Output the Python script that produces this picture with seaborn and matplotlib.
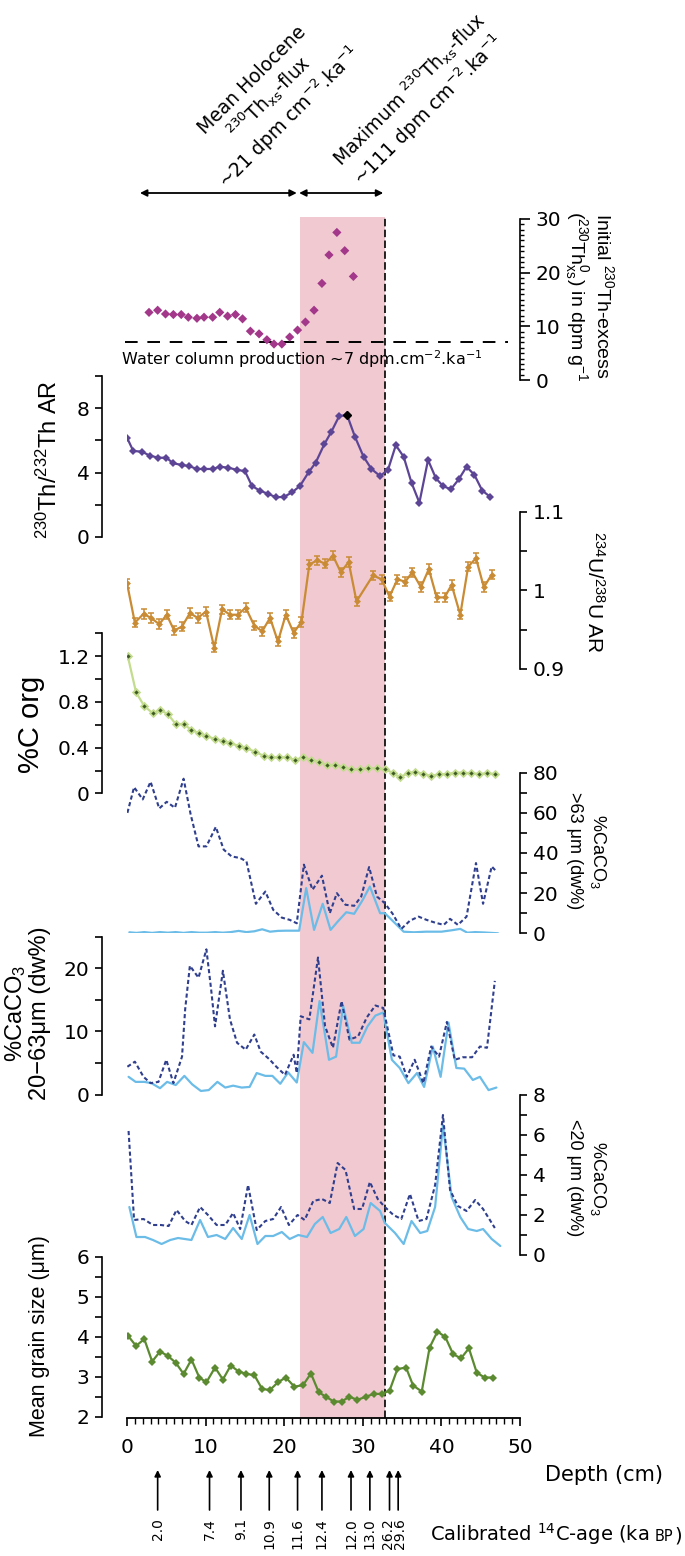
import matplotlib
matplotlib.use('Agg')
import matplotlib.pyplot as plt
import matplotlib.transforms as mtransforms
import seaborn as sns

sns.set_style('ticks')
plt.rcParams['font.family'] = ['DejaVu Sans']
plt.rcParams['mathtext.default'] = 'regular'
for key in ['text.color', 'axes.labelcolor', 'xtick.color', 'ytick.color', 'axes.edgecolor']:
    plt.rcParams[key] = 'black'

# ---- data (depth in cm) ----
thxs_depth = [2.8, 3.9, 4.9, 5.9, 6.9, 7.8, 8.9, 9.8, 10.9, 11.8, 12.8, 13.8, 14.7, 15.7,
              16.8, 17.8, 18.7, 19.7, 20.7, 21.7, 22.7, 23.8, 24.8, 25.7, 26.7, 27.7, 28.8]
thxs_val = [12.6, 13.0, 12.3, 12.2, 12.2, 11.7, 11.5, 11.7, 11.7, 12.6, 11.9, 12.2, 11.4, 9.1,
            8.6, 7.5, 6.7, 6.7, 8.0, 9.3, 10.8, 13.0, 18.0, 23.3, 27.5, 24.1, 19.3]
water_prod = 7

thth_depth = [0.0, 0.8, 1.9, 2.9, 4.0, 5.0, 5.9, 7.0, 7.9, 8.9, 9.8, 10.9, 11.8, 12.9, 14.0, 15.0,
              15.9, 16.9, 18.0, 19.0, 20.0, 21.0, 22.0, 23.1, 24.0, 25.1, 26.0, 27.0, 28.0, 29.0,
              30.1, 31.1, 32.2, 33.2, 34.2, 35.2, 36.2, 37.2, 38.3, 39.3, 40.2, 41.2, 42.2, 43.2,
              44.2, 45.2, 46.2]
thth_val = [6.17, 5.34, 5.30, 5.05, 4.92, 4.92, 4.57, 4.47, 4.40, 4.22, 4.22, 4.22, 4.36, 4.30,
            4.16, 4.09, 3.16, 2.87, 2.66, 2.45, 2.49, 2.76, 3.16, 4.01, 4.61, 5.76, 6.54, 7.52,
            7.58, 6.23, 4.98, 4.22, 3.78, 4.16, 5.70, 4.98, 3.36, 2.12, 4.78, 3.64, 3.16, 2.95,
            3.57, 4.36, 3.85, 2.87, 2.49]
thth_max = (28.0, 7.58)

uar_depth = [0.0, 1.0, 2.1, 3.05, 4.1, 5.05, 6.0, 7.0, 8.0, 9.0, 10.05, 11.1, 12.1, 13.1, 14.1,
             15.1, 16.2, 17.2, 18.2, 19.2, 20.2, 21.2, 22.2, 23.2, 24.2, 25.2, 26.2, 27.2, 28.2,
             29.2, 31.3, 32.4, 33.4, 34.4, 35.4, 36.3, 37.4, 38.4, 39.4, 40.4, 41.3, 42.4, 43.4,
             44.4, 45.4, 46.4]
uar_val = [1.009, 0.959, 0.970, 0.965, 0.957, 0.969, 0.949, 0.954, 0.971, 0.965, 0.973, 0.927,
           0.976, 0.969, 0.969, 0.978, 0.955, 0.948, 0.965, 0.935, 0.969, 0.946, 0.960, 1.033,
           1.038, 1.034, 1.044, 1.023, 1.036, 0.986, 1.019, 1.014, 0.992, 1.014, 1.011, 1.023,
           1.004, 1.027, 0.991, 0.991, 1.007, 0.969, 1.030, 1.041, 1.004, 1.020]
uar_err = 0.006

corg_depth = [0.1, 1.15, 2.2, 3.3, 4.2, 5.2, 6.2, 7.2, 8.2, 9.2, 10.1, 11.2, 12.2, 13.1, 14.2,
              15.2, 16.3, 17.4, 18.3, 19.4, 20.4, 21.4, 22.4, 23.4, 24.4, 25.4, 26.5, 27.5, 28.5,
              29.6, 30.7, 31.8, 32.8, 33.8, 34.7, 35.7, 36.7, 37.7, 38.7, 39.7, 40.75, 41.7, 42.8,
              43.8, 44.8, 45.8, 46.8]
corg_val = [1.20, 0.884, 0.764, 0.70, 0.729, 0.694, 0.607, 0.607, 0.555, 0.526, 0.502, 0.476,
            0.458, 0.438, 0.418, 0.395, 0.365, 0.328, 0.316, 0.316, 0.316, 0.293, 0.316, 0.293,
            0.278, 0.249, 0.249, 0.229, 0.211, 0.211, 0.22, 0.22, 0.211, 0.182, 0.141, 0.176,
            0.19, 0.17, 0.153, 0.168, 0.17, 0.182, 0.182, 0.176, 0.17, 0.176, 0.17]

# %CaCO3 >63 um: dotted = bulk, solid = second series
c63_dot_depth = [0.05, 0.9, 2.0, 3.0, 4.1, 5.05, 6.1, 7.2, 8.1, 9.1, 10.1, 11.3, 12.3, 13.3,
                 14.4, 15.2, 16.4, 17.6, 18.6, 19.7, 20.7, 21.6, 22.5, 23.6, 24.8, 25.8, 26.7,
                 27.8, 28.9, 29.8, 30.8, 31.8, 32.8, 33.8, 34.9, 36.0, 37.1, 38.1, 39.2, 40.3,
                 41.1, 42.1, 43.2, 44.4, 45.3, 46.4, 47.0]
c63_dot_val = [60.0, 72.8, 66.7, 75.5, 62.2, 65.5, 62.5, 77.0, 59.2, 43.3, 43.3, 53.0, 41.7,
               38.3, 37.5, 35.8, 14.7, 20.8, 11.7, 7.8, 6.7, 5.0, 34.2, 21.7, 28.7, 10.0, 20.0,
               14.2, 13.7, 18.3, 33.0, 18.3, 15.0, 9.7, 2.2, 6.3, 8.3, 6.7, 5.3, 4.2, 7.2, 4.2,
               8.3, 35.0, 14.7, 33.3, 30.8]
c63_sol_depth = [0.3, 1.2, 2.2, 3.2, 4.2, 5.2, 6.2, 7.2, 8.2, 9.2, 10.2, 11.2, 12.2, 13.2, 14.2,
                 15.2, 16.2, 17.2, 18.2, 19.2, 20.2, 21.9, 22.8, 23.8, 24.9, 25.9, 26.8, 27.9,
                 28.9, 30.0, 30.9, 32.2, 32.8, 33.9, 35.2, 36.5, 38.0, 40.0, 41.3, 42.4, 43.3,
                 44.3, 45.5, 47.2]
c63_sol_val = [0.5, 0.2, 0.6, 0.2, 0.6, 0.3, 0.6, 0.2, 0.6, 0.3, 0.3, 0.6, 0.3, 0.6, 1.2, 0.6,
               1.0, 2.0, 0.8, 1.2, 1.3, 1.3, 22.5, 1.7, 14.7, 1.7, 5.8, 10.5, 9.7, 16.7, 23.3,
               10.0, 10.0, 5.8, 0.8, 0.5, 0.8, 0.8, 1.5, 2.2, 0.3, 0.6, 0.4, 0.0]

# %CaCO3 20-63 um
c20_dot_depth = [0.05, 1.0, 2.1, 3.0, 4.0, 5.0, 5.9, 7.0, 7.4, 8.0, 9.1, 10.1, 10.7, 11.2, 12.2,
                 13.1, 14.0, 15.1, 16.2, 17.0, 18.1, 19.0, 20.1, 21.2, 21.6, 22.1, 23.2, 24.3,
                 25.2, 26.2, 27.3, 28.3, 29.4, 30.5, 31.6, 32.6, 33.9, 34.7, 35.6, 36.6, 37.7,
                 38.7, 39.7, 40.7, 41.7, 42.7, 43.9, 44.9, 45.8, 46.8]
c20_dot_val = [4.4, 5.2, 2.8, 1.8, 2.0, 5.5, 1.8, 6.0, 13.5, 20.4, 18.5, 23.0, 16.7, 10.8, 19.6,
               11.9, 8.2, 7.1, 9.5, 6.8, 5.6, 4.4, 3.1, 6.3, 3.4, 12.4, 11.9, 21.7, 10.8, 7.4,
               14.8, 8.7, 9.2, 12.2, 14.1, 13.7, 6.2, 6.0, 2.8, 5.5, 1.8, 7.6, 6.0, 11.5, 5.5,
               5.9, 5.9, 7.6, 7.4, 18.0]
c20_sol_depth = [0.2, 1.1, 2.2, 3.1, 4.2, 5.1, 6.2, 7.3, 8.3, 9.4, 10.4, 11.5, 12.5, 13.5, 14.6,
                 15.6, 16.5, 17.6, 18.5, 19.5, 20.5, 21.6, 22.5, 23.6, 24.5, 25.7, 26.6, 27.5,
                 28.6, 29.6, 30.6, 31.6, 32.6, 33.7, 34.7, 35.8, 36.9, 37.8, 38.9, 39.9, 40.9,
                 41.9, 42.9, 44.0, 44.9, 46.0, 47.0]
c20_sol_val = [2.8, 2.0, 2.0, 1.8, 1.0, 2.0, 1.5, 2.95, 1.6, 0.56, 0.7, 2.0, 1.1, 1.4, 1.1, 1.2,
               3.4, 2.95, 2.95, 1.7, 3.5, 1.9, 8.3, 6.6, 14.8, 5.5, 6.0, 14.0, 8.2, 8.2, 10.8,
               12.5, 13.0, 5.5, 4.2, 1.8, 3.4, 1.2, 7.6, 2.8, 11.4, 4.2, 4.1, 2.3, 2.8, 0.7, 1.1]

# %CaCO3 <20 um
f20_dot_depth = [0.2, 0.9, 2.1, 3.3, 4.3, 5.3, 6.3, 7.4, 8.2, 9.3, 10.3, 11.4, 12.5, 13.5, 14.4,
                 15.4, 16.5, 17.6, 18.6, 19.6, 20.6, 21.7, 22.6, 23.7, 24.8, 25.8, 26.8, 27.8,
                 28.9, 29.9, 30.9, 31.9, 32.8, 33.9, 34.9, 36.0, 37.1, 38.1, 39.2, 40.2, 41.1,
                 42.1, 43.2, 44.3, 45.3, 46.8]
f20_dot_val = [6.2, 1.75, 1.8, 1.5, 1.5, 1.45, 2.25, 1.7, 1.5, 2.4, 2.0, 1.5, 1.5, 2.1, 1.3, 3.5,
               1.25, 1.7, 1.8, 2.4, 1.5, 2.0, 1.75, 2.7, 2.8, 2.6, 4.6, 4.25, 2.3, 2.3, 3.65,
               2.8, 2.4, 2.0, 1.8, 3.05, 1.7, 1.8, 3.5, 7.0, 3.25, 2.45, 2.2, 2.75, 2.3, 1.35]
f20_sol_depth = [0.3, 1.2, 2.3, 3.3, 4.4, 5.5, 6.5, 8.2, 9.3, 10.3, 11.4, 12.5, 13.5, 14.6, 15.6,
                 16.6, 17.6, 18.6, 19.7, 20.7, 21.8, 22.9, 23.9, 24.9, 25.9, 27.0, 27.9, 29.0,
                 30.1, 31.0, 32.2, 32.8, 34.1, 35.2, 36.2, 37.3, 38.2, 39.2, 40.2, 41.3, 42.4,
                 43.4, 44.5, 45.3, 46.4, 47.5]
f20_sol_val = [2.4, 0.9, 0.9, 0.75, 0.55, 0.75, 0.85, 0.75, 1.75, 0.9, 1.0, 0.8, 1.35, 0.8, 2.0,
               0.55, 0.95, 0.95, 1.15, 0.8, 1.0, 0.9, 1.55, 1.9, 1.1, 1.3, 1.9, 0.95, 1.3, 2.6,
               2.2, 1.6, 1.1, 0.55, 1.7, 1.1, 1.2, 2.4, 6.5, 2.9, 1.9, 1.3, 1.2, 1.3, 0.8, 0.45]

grain_depth = [0.1, 1.15, 2.2, 3.2, 4.2, 5.2, 6.2, 7.2, 8.2, 9.2, 10.1, 11.2, 12.2, 13.2, 14.2,
               15.2, 16.2, 17.2, 18.2, 19.2, 20.2, 21.3, 22.4, 23.4, 24.4, 25.3, 26.3, 27.3,
               28.3, 29.3, 30.4, 31.4, 32.4, 33.4, 34.4, 35.5, 36.4, 37.5, 38.5, 39.5, 40.5,
               41.5, 42.5, 43.5, 44.5, 45.5, 46.6]
grain_val = [4.03, 3.77, 3.94, 3.38, 3.63, 3.52, 3.35, 3.07, 3.43, 2.98, 2.86, 3.23, 2.93, 3.28,
             3.13, 3.07, 3.04, 2.69, 2.67, 2.86, 2.98, 2.75, 2.79, 3.08, 2.61, 2.5, 2.38, 2.38,
             2.5, 2.42, 2.5, 2.57, 2.57, 2.65, 3.19, 3.23, 2.78, 2.63, 3.73, 4.13, 3.99, 3.56,
             3.46, 3.71, 3.1, 2.98, 2.98]

age_depth = [3.9, 10.5, 14.5, 18.1, 21.7, 24.8, 28.5, 30.9, 33.4, 34.5]
age_label = ['2.0', '7.4', '9.1', '10.9', '11.6', '12.4', '12.0', '13.0', '26.2', '29.6']
# small sideways nudge (cm) so the two closely spaced labels do not touch
age_nudge = [0, 0, 0, 0, 0, 0, 0, 0, -0.2, 0.2]

pink_zone = (22.0, 32.8)

# ---- colours ----
thxs_color = '#a3378a'
thth_color = '#5d4596'
uar_color = '#c98b34'
corg_line = '#c3dc8e'
corg_dot = '#3d5a22'
dark_blue = '#2f3f8e'
light_blue = '#6cbce8'
grain_color = '#5b8a30'
pink = '#f1c9d1'

W, H = 685, 1556
X0, X1 = 127, 520
TICK = 14.5
LAB = 'Liberation Sans'   # rotated axis titles
fig = plt.figure(figsize=(W / 100, H / 100), dpi=100)


def fy(py):
    return 1 - py / H


def panel(top, bottom, ylim):
    ax = fig.add_axes([X0 / W, fy(bottom), (X1 - X0) / W, (bottom - top) / H])
    ax.set_facecolor('none')
    ax.set_xlim(0, 50)
    ax.set_ylim(*ylim)
    ax.xaxis.set_visible(False)
    for s in ax.spines.values():
        s.set_visible(False)
        s.set_linewidth(1.2)
    return ax


def yaxis(ax, side, ticks, labels, minor=None):
    ax.spines[side].set_visible(True)
    if side == 'left':
        ax.spines['left'].set_position(('outward', 18))
        ax.yaxis.tick_left()
    else:
        ax.yaxis.tick_right()
    ax.set_yticks(ticks)
    ax.set_yticklabels(labels)
    if minor is not None:
        ax.set_yticks(minor, minor=True)
    ax.tick_params(axis='y', which='major', length=5, width=1.2, labelsize=TICK, pad=4)
    ax.tick_params(axis='y', which='minor', length=3, width=1.0)


# background axis: depth scale, pink zone, boundary line
bg = fig.add_axes([X0 / W, fy(1418), (X1 - X0) / W, (1418 - 217) / H])
bg.set_facecolor('none')
bg.set_xlim(0, 50)
bg.set_ylim(0, 1)
bg.axvspan(*pink_zone, color=pink, lw=0, zorder=0)
bg.axvline(pink_zone[1], color='black', lw=1.2, ls=(0, (4.5, 2)), zorder=5)
for s in ['top', 'left', 'right']:
    bg.spines[s].set_visible(False)
bg.spines['bottom'].set_linewidth(1.3)
bg.set_yticks([])
bg.set_xticks(range(0, 51, 10))
bg.set_xticks(range(0, 51), minor=True)
bg.tick_params(axis='x', which='major', length=5.5, width=1.2, labelsize=TICK, pad=9)
bg.tick_params(axis='x', which='minor', length=4, width=1.0)

# panel 1: initial 230Th excess
ax1 = panel(219, 380, (0, 30))
sns.scatterplot(x=thxs_depth, y=thxs_val, ax=ax1, marker='D', s=22, color=thxs_color,
                edgecolor='none', zorder=3)
ax1.hlines(water_prod, -0.25, 48.5, color='black', lw=1.4, ls=(0, (6.5, 5)), clip_on=False)
ax1.text(-0.7, 3.9, 'Water column production ~7 dpm.cm$^{-2}$.ka$^{-1}$', fontsize=11.5,
         va='center', ha='left')
yaxis(ax1, 'right', [0, 10, 20, 30], ['0', '10', '20', '30'], minor=range(0, 31))
ax1.tick_params(axis='y', which='major', length=7)

# panel 2: 230Th/232Th AR
ax2 = panel(376.2, 536.7, (0, 10))
sns.lineplot(x=thth_depth, y=thth_val, ax=ax2, color=thth_color, lw=1.6, marker='D', ms=4,
             mew=0, sort=False, errorbar=None)
ax2.plot(*thth_max, marker='D', ms=4, color='black', zorder=4)
yaxis(ax2, 'left', [0, 2, 4, 6, 8, 10], ['0', '', '4', '', '8', ''])

# panel 3: 234U/238U AR
ax3 = panel(511.7, 669, (0.9, 1.1))
ax3.errorbar(uar_depth, uar_val, yerr=uar_err, fmt='none', ecolor=uar_color, elinewidth=1.1,
             capsize=2.3, capthick=1.1)
sns.lineplot(x=uar_depth, y=uar_val, ax=ax3, color=uar_color, lw=1.6, marker='D', ms=3.5,
             mew=0, sort=False, errorbar=None)
yaxis(ax3, 'right', [0.9, 0.95, 1.0, 1.05, 1.1], ['0.9', '', '1', '', '1.1'])

# panel 4: %C org
ax4 = panel(633.3, 793.5, (0, 1.4))
sns.lineplot(x=corg_depth, y=corg_val, ax=ax4, color=corg_line, lw=1.6, marker='D', ms=3.5,
             mfc=corg_dot, mec=corg_line, mew=1.3, sort=False, errorbar=None)
yaxis(ax4, 'left', [0, 0.2, 0.4, 0.6, 0.8, 1.0, 1.2, 1.4],
      ['0', '', '0.4', '', '0.8', '', '1.2', ''])

# panel 5: %CaCO3 > 63 um
ax5 = panel(772.7, 933.3, (0, 80))
sns.lineplot(x=c63_sol_depth, y=c63_sol_val, ax=ax5, color=light_blue, lw=1.6, sort=False,
             errorbar=None)
sns.lineplot(x=c63_dot_depth, y=c63_dot_val, ax=ax5, color=dark_blue, lw=1.5,
             ls=(0, (2, 1.3)), sort=False, errorbar=None)
yaxis(ax5, 'right', range(0, 81, 10), ['0', '', '20', '', '40', '', '60', '', '80'])

# panel 6: %CaCO3 20-63 um
ax6 = panel(936.7, 1094.5, (0, 25))
sns.lineplot(x=c20_sol_depth, y=c20_sol_val, ax=ax6, color=light_blue, lw=1.6, sort=False,
             errorbar=None)
sns.lineplot(x=c20_dot_depth, y=c20_dot_val, ax=ax6, color=dark_blue, lw=1.5,
             ls=(0, (2, 1.3)), sort=False, errorbar=None)
yaxis(ax6, 'left', range(0, 26, 5), ['0', '', '10', '', '20', ''])

# panel 7: %CaCO3 < 20 um
ax7 = panel(1095, 1255, (0, 8))
sns.lineplot(x=f20_sol_depth, y=f20_sol_val, ax=ax7, color=light_blue, lw=1.6, sort=False,
             errorbar=None)
sns.lineplot(x=f20_dot_depth, y=f20_dot_val, ax=ax7, color=dark_blue, lw=1.5,
             ls=(0, (2, 1.3)), sort=False, errorbar=None)
yaxis(ax7, 'right', range(0, 9), ['0', '', '2', '', '4', '', '6', '', '8'])

# panel 8: mean grain size
ax8 = panel(1256.7, 1416.7, (2, 6))
sns.lineplot(x=grain_depth, y=grain_val, ax=ax8, color=grain_color, lw=1.6, marker='D', ms=3.8,
             mew=0, sort=False, errorbar=None)
yaxis(ax8, 'left', [2, 2.5, 3, 3.5, 4, 4.5, 5, 5.5, 6],
      ['2', '', '3', '', '4', '', '5', '', '6'])

for ax in [ax1, ax2, ax3, ax4, ax5, ax6, ax7, ax8]:
    ax.set_xlabel('')
    ax.set_ylabel('')

# axis titles (rotated)
fig.text(49 / W, fy(460), '$^{230}$Th/$^{232}$Th AR', rotation=90, ha='center', va='center',
         fontsize=17, family=LAB)
fig.text(31 / W, fy(724), '%C org', rotation=90, ha='center', va='center', fontsize=21,
         family=LAB)
fig.text(27 / W, fy(1013), '%CaCO$_3$\n20\u221263\u03bcm (dw%)', rotation=90, ha='center',
         va='center', fontsize=17, linespacing=1.05, family=LAB)
fig.text(40 / W, fy(1336), 'Mean grain size (\u03bcm)', rotation=90, ha='center',
         va='center', fontsize=15.5, family=LAB)
fig.text(589 / W, fy(296), 'Initial $^{230}$Th-excess\n($^{230}$Th$_{xs}^{0}$) in dpm g$^{-1}$',
         rotation=-90, ha='center', va='center', fontsize=14, linespacing=1.15, family=LAB)
fig.text(594 / W, fy(592), '$^{234}$U/$^{238}$U AR', rotation=-90, ha='center', va='center',
         fontsize=15, family=LAB)
fig.text(587 / W, fy(851), '%CaCO$_3$\n>63 \u03bcm (dw%)', rotation=-90, ha='center',
         va='center', fontsize=13, linespacing=1.35, family=LAB)
fig.text(587 / W, fy(1178), '%CaCO$_3$\n<20 \u03bcm (dw%)', rotation=-90, ha='center',
         va='center', fontsize=13, linespacing=1.35, family=LAB)

# top flux annotations
fig.text(272 / W, fy(100), 'Mean Holocene\n$^{230}$Th$_{xs}$-flux\n~21 dpm cm$^{-2}$.ka$^{-1}$',
         rotation=45, rotation_mode='anchor', ha='center', va='center', multialignment='center',
         fontsize=13.5, linespacing=1.15)
fig.text(419 / W, fy(100), 'Maximum $^{230}$Th$_{xs}$-flux\n~111 dpm cm$^{-2}$.ka$^{-1}$',
         rotation=45, rotation_mode='anchor', ha='center', va='center', multialignment='center',
         fontsize=13.5, linespacing=1.15)
trans = mtransforms.blended_transform_factory(bg.transData, fig.transFigure)
arrow_kw = dict(arrowstyle='<|-|>', color='black', lw=1.3, mutation_scale=10,
                shrinkA=0, shrinkB=0)
bg.annotate('', xy=(1.65, fy(193)), xytext=(21.6, fy(193)), xycoords=trans,
            textcoords=trans, arrowprops=arrow_kw, annotation_clip=False)
bg.annotate('', xy=(21.9, fy(193)), xytext=(32.6, fy(193)), xycoords=trans,
            textcoords=trans, arrowprops=arrow_kw, annotation_clip=False)

# depth axis + radiocarbon ages
fig.text(604 / W, fy(1475), 'Depth (cm)', ha='center', va='center', fontsize=15)
renderer = fig.canvas.get_renderer()
t1 = fig.text(430 / W, fy(1541), 'Calibrated $^{14}$C-age (ka', ha='left', va='baseline',
              fontsize=14)
x_end = t1.get_window_extent(renderer).x1
t2 = fig.text((x_end + 5) / W, fy(1541), 'BP', ha='left', va='baseline', fontsize=10.5)
x_end = t2.get_window_extent(renderer).x1
fig.text((x_end + 1) / W, fy(1541), ')', ha='left', va='baseline', fontsize=14)

for d, lab, nudge in zip(age_depth, age_label, age_nudge):
    bg.annotate('', xy=(d, fy(1470)), xytext=(d, fy(1510)), xycoords=trans, textcoords=trans,
                arrowprops=dict(arrowstyle='-|>', color='black', lw=1.2, mutation_scale=9,
                                shrinkA=0, shrinkB=0), annotation_clip=False)
    bg.text(d + nudge, fy(1518), lab, transform=trans, rotation=90, ha='center', va='top',
            fontsize=10)

fig.savefig('out.png', dpi=100)
